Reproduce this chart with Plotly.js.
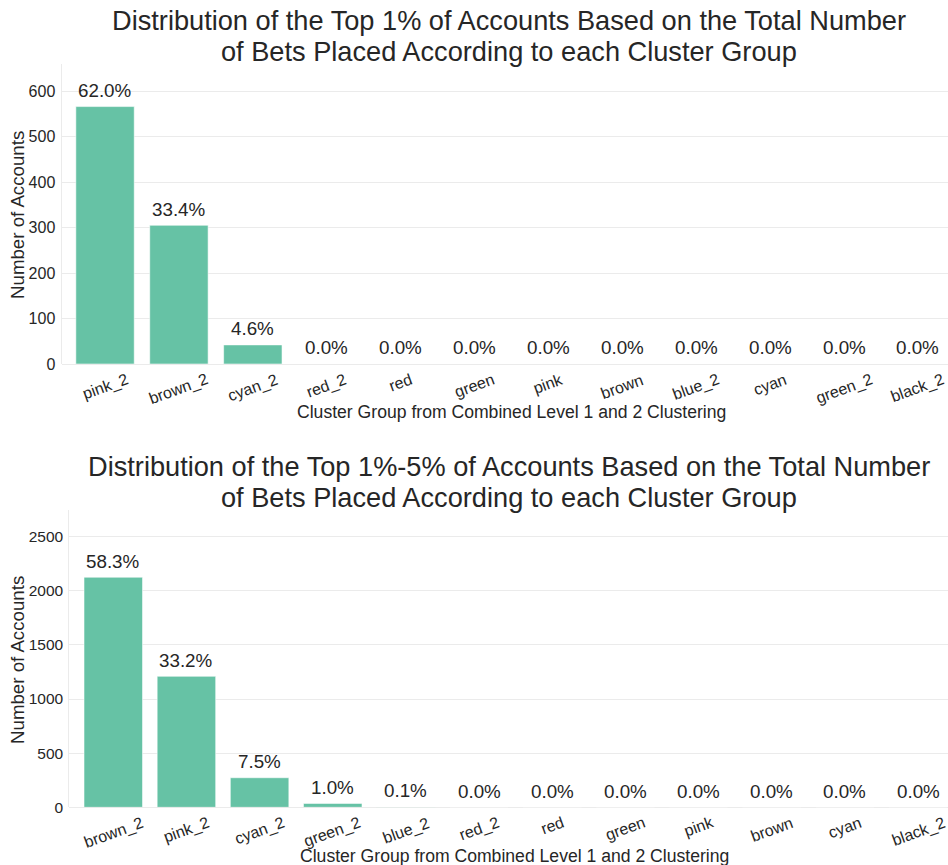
<!DOCTYPE html>
<html>
<head>
<meta charset="utf-8">
<script src="https://cdn.plot.ly/plotly-3.0.1.min.js"></script>
<style>html,body{margin:0;padding:0;background:#fff;}#chart{width:948px;height:865px;}</style>
</head>
<body>
<div id="chart"></div>
<script>
// ---- data ----
const categoriesTop = ['pink_2','brown_2','cyan_2','red_2','red','green','pink','brown','blue_2','cyan','green_2','black_2'];
const countsTop = [566, 305, 42, 0, 0, 0, 0, 0, 0, 0, 0, 0];
const categoriesBottom = ['brown_2','pink_2','cyan_2','green_2','blue_2','red_2','red','green','pink','brown','cyan','black_2'];
const countsBottom = [2125, 1210, 273, 36, 3, 0, 0, 0, 0, 0, 0, 0];
const yTicksTop = [0, 100, 200, 300, 400, 500, 600];
const yTicksBottom = [0, 500, 1000, 1500, 2000, 2500];
const titleTop = ['Distribution of the Top 1% of Accounts Based on the Total Number', 'of Bets Placed According to each Cluster Group'];
const titleBottom = ['Distribution of the Top 1%-5% of Accounts Based on the Total Number', 'of Bets Placed According to each Cluster Group'];
const xTitle = 'Cluster Group from Combined Level 1 and 2 Clustering';
const yTitle = 'Number of Accounts';

// ---- style ----
const FONT = 'Liberation Sans, Arial, sans-serif';
const TXT = '#262626';
const BAR = '#66c2a5';
const GRID = '#ebebeb';
const W = 948, H = 865;

function pct(arr) {
  const tot = arr.reduce((a, b) => a + b, 0);
  return arr.map(v => (100 * v / tot).toFixed(1) + '%');
}

const traces = [
  {type: 'bar', x: categoriesTop, y: countsTop, xaxis: 'x', yaxis: 'y', width: 0.79,
   marker: {color: BAR, line: {color: 'rgba(255,255,255,0.7)', width: 0.8}}, hoverinfo: 'skip'},
  {type: 'bar', x: categoriesBottom, y: countsBottom, xaxis: 'x2', yaxis: 'y2', width: 0.8,
   marker: {color: BAR, line: {color: 'rgba(255,255,255,0.7)', width: 0.8}}, hoverinfo: 'skip'}
];

const ann = [];
function addPanel(cats, counts, xr, yr) {
  const labels = pct(counts);
  cats.forEach((c, i) => {
    ann.push({xref: xr, yref: yr, x: c, y: counts[i], text: labels[i], showarrow: false,
      yanchor: 'middle', xanchor: 'center', yshift: 16, font: {family: FONT, size: 18.8, color: TXT}});
    ann.push({xref: xr, yref: yr, x: c, y: 0, text: c, showarrow: false, textangle: -20,
      yanchor: 'top', xanchor: 'center', yshift: -4, font: {family: FONT, size: 16, color: TXT}});
  });
}
addPanel(categoriesTop, countsTop, 'x', 'y');
addPanel(categoriesBottom, countsBottom, 'x2', 'y2');

function paperY(px) { return 1 - px / H; }
function titleAnn(text, py) {
  return {xref: 'paper', yref: 'paper', x: 509 / W, y: paperY(py), text: text, showarrow: false,
    xanchor: 'center', yanchor: 'middle', font: {family: FONT, size: 27.2, color: TXT}};
}
ann.push(titleAnn(titleTop[0], 20.5));
ann.push(titleAnn(titleTop[1], 51.5));
ann.push(titleAnn(titleBottom[0], 466.5));
ann.push(titleAnn(titleBottom[1], 497.5));
ann.push({xref: 'paper', yref: 'paper', x: 512 / W, y: paperY(412), text: xTitle, showarrow: false,
  xanchor: 'center', yanchor: 'middle', font: {family: FONT, size: 17.6, color: TXT}});
ann.push({xref: 'paper', yref: 'paper', x: 514 / W, y: paperY(856), text: xTitle, showarrow: false,
  xanchor: 'center', yanchor: 'middle', font: {family: FONT, size: 17.6, color: TXT}});
ann.push({xref: 'paper', yref: 'paper', x: 17 / W, y: paperY(215), text: yTitle, showarrow: false, textangle: -90,
  xanchor: 'center', yanchor: 'middle', font: {family: FONT, size: 18.7, color: TXT}});
ann.push({xref: 'paper', yref: 'paper', x: 17 / W, y: paperY(660), text: yTitle, showarrow: false, textangle: -90,
  xanchor: 'center', yanchor: 'middle', font: {family: FONT, size: 18.7, color: TXT}});

const xCommon = {type: 'category', showgrid: false, showticklabels: false, ticks: '', showline: false, zeroline: false, fixedrange: true};
const yCommon = {showgrid: true, gridcolor: GRID, gridwidth: 1, showline: true, linecolor: GRID, linewidth: 1,
  zeroline: true, zerolinecolor: GRID, zerolinewidth: 1, ticks: '', fixedrange: true};

const layout = {
  width: W, height: H,
  margin: {l: 0, r: 0, t: 0, b: 0, autoexpand: false},
  paper_bgcolor: '#ffffff', plot_bgcolor: '#ffffff',
  showlegend: false,
  font: {family: FONT, color: TXT},
  xaxis: Object.assign({}, xCommon, {domain: [61.5 / W, 1], range: [-0.589, 11.407], anchor: 'y'}),
  yaxis: Object.assign({}, yCommon, {domain: [paperY(364), paperY(64.3)], range: [0, 659], tickvals: yTicksTop,
    tickfont: {family: FONT, size: 16, color: TXT}, anchor: 'x', ticklabelstandoff: 2}),
  xaxis2: Object.assign({}, xCommon, {domain: [69.3 / W, 1], range: [-0.601, 11.41], anchor: 'y2'}),
  yaxis2: Object.assign({}, yCommon, {domain: [paperY(807.3), paperY(510)], range: [0, 2746], tickvals: yTicksBottom,
    tickfont: {family: FONT, size: 15.5, color: TXT}, anchor: 'x2', ticklabelstandoff: 2}),
  annotations: ann
};

Plotly.newPlot('chart', traces, layout, {staticPlot: true, displayModeBar: false});
</script>
</body>
</html>
